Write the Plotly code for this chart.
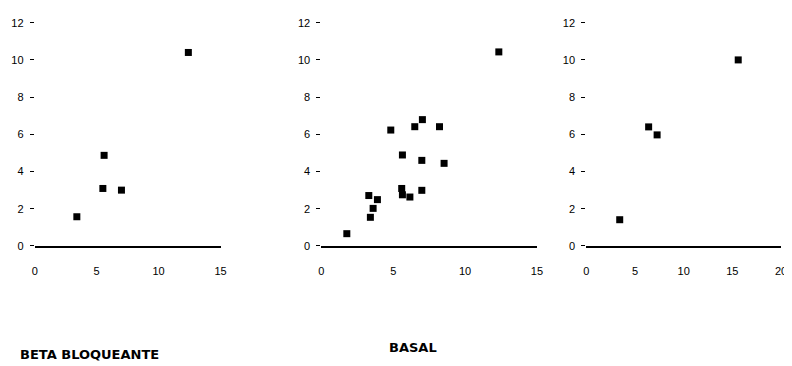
import plotly.graph_objects as go

# Panel 1: BETA BLOQUEANTE
beta_x = [12.4, 5.6, 5.5, 7.0, 3.4]
beta_y = [10.4, 4.87, 3.09, 3.0, 1.57]

# Panel 2: BASAL
basal_x = [12.35, 4.83, 6.5, 7.03, 8.22, 5.64, 6.99, 8.54, 3.3, 3.9, 3.6, 3.41, 5.59, 5.64, 6.16, 6.99, 1.77]
basal_y = [10.43, 6.23, 6.41, 6.79, 6.41, 4.89, 4.6, 4.44, 2.71, 2.49, 2.02, 1.54, 3.09, 2.75, 2.63, 2.99, 0.66]

# Panel 3
third_x = [15.6, 6.4, 7.27, 3.43]
third_y = [10.0, 6.4, 5.97, 1.41]

y_ticks = [0, 2, 4, 6, 8, 10, 12]
x_ticks_15 = [0, 5, 10, 15]
x_ticks_20 = [0, 5, 10, 15, 20]

titles = ["BETA BLOQUEANTE", "BASAL"]

# page body has an 8px default margin; size the figure to the visible area
M = 8
W, H = 792 - M, 366 - M


def fx(px):
    return (px - M) / W


def fy(py):
    return (H - (py - M)) / H


fig = go.Figure()

marker = dict(symbol="square", size=7, color="black")
for i, (xs, ys) in enumerate([(beta_x, beta_y), (basal_x, basal_y), (third_x, third_y)]):
    sfx = "" if i == 0 else str(i + 1)
    fig.add_trace(go.Scatter(x=xs, y=ys, mode="markers", marker=marker,
                             xaxis="x" + sfx, yaxis="y" + sfx, showlegend=False,
                             cliponaxis=False))

ydom = [fy(248), fy(17)]
panels = [
    ((32, 220), [0, 15], x_ticks_15),
    ((322, 540), [0, 15], x_ticks_15),
    ((590, 787), [0, 20], x_ticks_20),
]
tickfont = dict(family="Liberation Sans, Arial, sans-serif", size=11, color="black")
layout = {}
for i, ((px0, px1), rng, xt) in enumerate(panels):
    sfx = "" if i == 0 else str(i + 1)
    layout["xaxis" + sfx] = dict(
        domain=[fx(px0), min(fx(px1), 1.0)], range=rng, tickvals=xt, showgrid=False,
        zeroline=False, showline=True, linecolor="black", linewidth=1.5,
        ticks="", ticklabelstandoff=14, tickfont=tickfont,
        anchor="y" + sfx, fixedrange=True)
    layout["yaxis" + sfx] = dict(
        domain=ydom, range=[0, 12], tickvals=y_ticks, showgrid=False,
        zeroline=False, showline=False, ticks="outside", ticklen=4,
        tickwidth=1, tickcolor="black", ticklabelstandoff=4, tickfont=tickfont,
        anchor="x" + sfx, fixedrange=True)

fig.update_layout(**layout)
fig.update_layout(
    width=W, height=H, margin=dict(l=0, r=0, t=0, b=0),
    paper_bgcolor="white", plot_bgcolor="white",
    annotations=[
        dict(text="<b>" + titles[0] + "</b>", xref="paper", yref="paper",
             x=fx(15), y=fy(360), xanchor="left", yanchor="middle",
             showarrow=False,
             font=dict(family="DejaVu Sans, sans-serif", size=13, color="black")),
        dict(text="<b>" + titles[1] + "</b>", xref="paper", yref="paper",
             x=fx(414.5), y=fy(353.5), xanchor="center", yanchor="middle",
             showarrow=False,
             font=dict(family="DejaVu Sans, sans-serif", size=13, color="black")),
    ],
)

fig.write_html("out.html")
